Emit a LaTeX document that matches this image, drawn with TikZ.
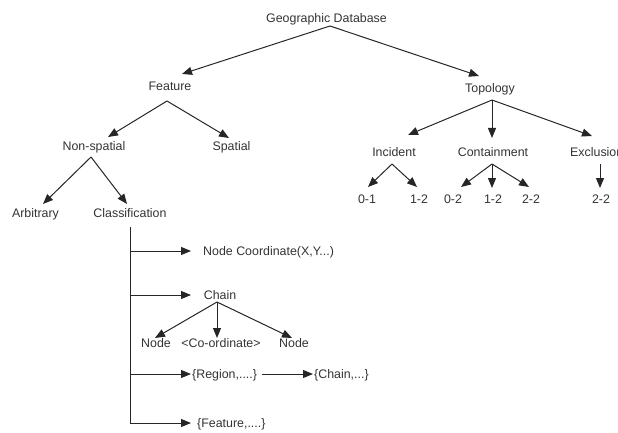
\documentclass[tikz,border=0pt]{standalone}
\usepackage{fontspec}
\setmainfont{Liberation Sans}
\usetikzlibrary{arrows.meta}
\begin{document}
\begin{tikzpicture}[x=1pt,y=-1pt,
  lbl/.style={inner sep=0pt, font=\fontsize{12.4}{14}\selectfont, text=black!80, text height=8.9pt, text depth=0pt},
  arr/.style={-{Triangle[length=10pt,width=8pt]}, line width=1pt, draw=black!85},
  trunk/.style={line width=1pt, draw=black!85}]
\useasboundingbox (0,0) rectangle (618,433);
\clip (0,0) rectangle (618,433);
% labels
\node[lbl] (gd) at (326.5,18.5) {Geographic Database};
\node[lbl] (feat) at (170,86) {Feature};
\node[lbl] (topo) at (490,88) {Topology};
\node[lbl] (nons) at (94,146) {Non-spatial};
\node[lbl] (spat) at (231.5,146) {Spatial};
\node[lbl] (arb) at (35.5,213) {Arbitrary};
\node[lbl] (cls) at (130,213) {Classification};
\node[lbl] (inc) at (394,152) {Incident};
\node[lbl] (cont) at (493,152) {Containment};
\node[lbl,anchor=west] (excl) at (570,152) {Exclusion};
\node[lbl] (i01) at (367,199) {0-1};
\node[lbl] (i12) at (419,199) {1-2};
\node[lbl] (c02) at (453,199) {0-2};
\node[lbl] (c12) at (493,199) {1-2};
\node[lbl] (c22) at (531,199) {2-2};
\node[lbl] (e22) at (601,199) {2-2};
\node[lbl,anchor=west] (nc) at (203,251) {Node Coordinate(X,Y...)};
\node[lbl] (chain) at (220,295) {Chain};
\node[lbl] (nodeL) at (156,343) {Node};
\node[lbl] (coord) at (221,343) {<Co-ordinate>};
\node[lbl] (nodeR) at (294,343) {Node};
\node[lbl,anchor=west] (region) at (192,374) {\{Region,....\}};
\node[lbl,anchor=west] (chainset) at (314,374) {\{Chain,...\}};
\node[lbl,anchor=west] (featset) at (197,423) {\{Feature,....\}};
% connector end points
\coordinate (gdS) at (330,26);
\coordinate (featN) at (182,74);
\coordinate (topoN) at (479,76);
\coordinate (featS) at (167,101);
\coordinate (nonsN) at (108,137);
\coordinate (spatN) at (229,138);
\coordinate (nonsS) at (91,157);
\coordinate (arbN) at (43,204);
\coordinate (clsN) at (127,204);
\coordinate (topoS) at (492,100);
\coordinate (incN) at (408,135);
\coordinate (contN) at (492,138);
\coordinate (exclN) at (592,136);
\coordinate (incS) at (392,164);
\coordinate (i01N) at (368,187);
\coordinate (i12N) at (417,187);
\coordinate (contS) at (492,164);
\coordinate (c02N) at (461,187);
\coordinate (c12N) at (492,188);
\coordinate (c22N) at (529,187);
\coordinate (exclS) at (600,164);
\coordinate (e22N) at (600,188);
\coordinate (trTop) at (130,227);
\coordinate (tr1) at (130,251);
\coordinate (tr2) at (130,295);
\coordinate (tr3) at (130,374);
\coordinate (tr4) at (130,423);
\coordinate (ncW) at (191,251);
\coordinate (chainW) at (191,295);
\coordinate (regionW) at (191,374);
\coordinate (featsetW) at (191,423);
\coordinate (chainS) at (217,302);
\coordinate (nodeLN) at (155,338);
\coordinate (coordN) at (217,338);
\coordinate (nodeRN) at (292,338);
\coordinate (regionE) at (262,374);
\coordinate (chainsetW) at (313,374);
% connectors
\draw[arr] (gdS) -- (featN);
\draw[arr] (gdS) -- (topoN);
\draw[arr] (featS) -- (nonsN);
\draw[arr] (featS) -- (spatN);
\draw[arr] (nonsS) -- (arbN);
\draw[arr] (nonsS) -- (clsN);
\draw[arr] (topoS) -- (incN);
\draw[arr] (topoS) -- (contN);
\draw[arr] (topoS) -- (exclN);
\draw[arr] (incS) -- (i01N);
\draw[arr] (incS) -- (i12N);
\draw[arr] (contS) -- (c02N);
\draw[arr] (contS) -- (c12N);
\draw[arr] (contS) -- (c22N);
\draw[arr] (exclS) -- (e22N);
\draw[trunk] (trTop) -- (tr4);
\draw[arr] (tr1) -- (ncW);
\draw[arr] (tr2) -- (chainW);
\draw[arr] (tr3) -- (regionW);
\draw[arr] (tr4) -- (featsetW);
\draw[arr] (chainS) -- (nodeLN);
\draw[arr] (chainS) -- (coordN);
\draw[arr] (chainS) -- (nodeRN);
\draw[arr] (regionE) -- (chainsetW);
\end{tikzpicture}
\end{document}
